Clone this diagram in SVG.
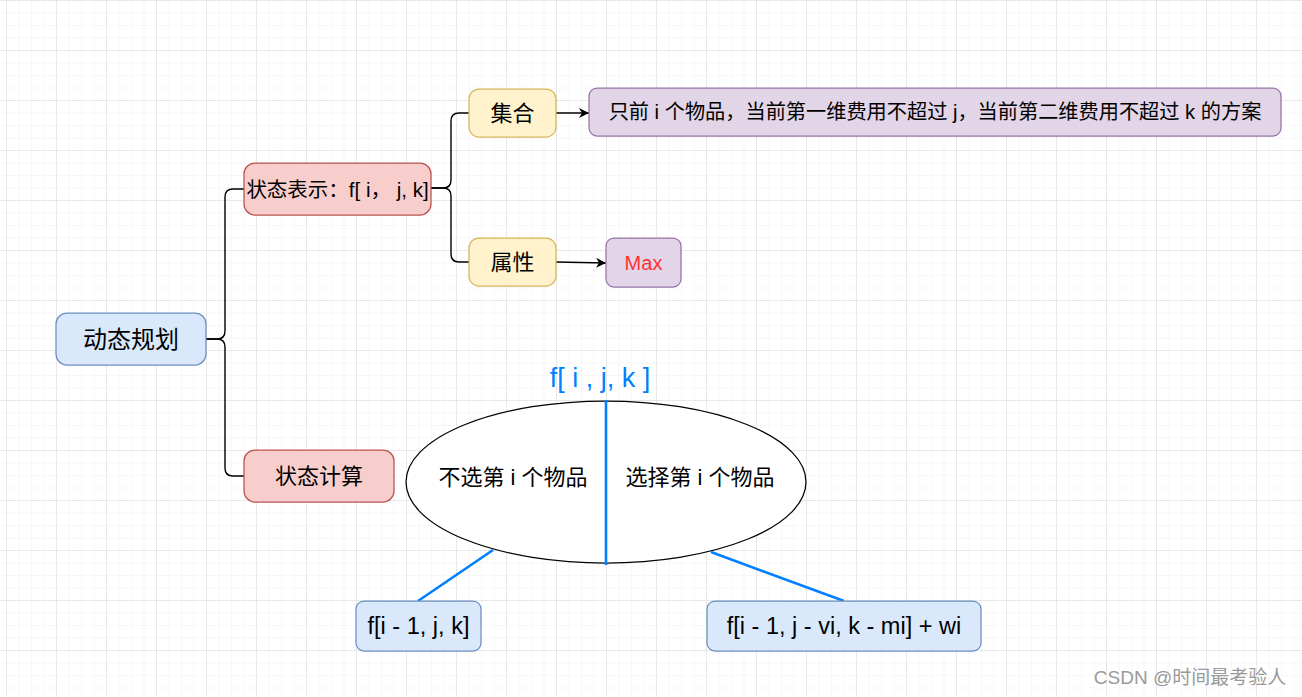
<svg xmlns="http://www.w3.org/2000/svg" width="1302" height="697" viewBox="0 0 1302 697">
<style>
text{font-family:"Liberation Sans","Noto Sans CJK SC",sans-serif;text-anchor:middle;dominant-baseline:central;fill:#000}
.blue{fill:#dae8fc;stroke:#6c8ebf;stroke-width:1.25}
.red{fill:#f8cecc;stroke:#b85450;stroke-width:1.25}
.yel{fill:#fff2cc;stroke:#d6b656;stroke-width:1.25}
.pur{fill:#e1d5e7;stroke:#9673a6;stroke-width:1.25}
.edge{fill:none;stroke:#000;stroke-width:1.4}
.bl{fill:none;stroke:#007fff;stroke-width:2.6}
</style>
<defs>
<pattern id="minor" x="6" y="0" width="12.5" height="12.5" patternUnits="userSpaceOnUse">
<path d="M0,0 V12.5 M0,0 H12.5" fill="none" stroke="#f0f0f0" stroke-width="1"/>
</pattern>
<pattern id="major" x="6" y="0" width="50" height="50" patternUnits="userSpaceOnUse">
<path d="M0,0 V50 M0,0 H50" fill="none" stroke="#dadada" stroke-width="1"/>
</pattern>
<marker id="arr" viewBox="0 0 10 10" refX="10" refY="5" markerWidth="10" markerHeight="10" markerUnits="userSpaceOnUse" orient="auto">
<path d="M0,0 L10,5 L0,10 L3,5 z" fill="#000"/>
</marker>
</defs>
<rect width="1302" height="697" fill="#fff"/>
<rect width="1302" height="697" fill="url(#minor)"/>
<rect width="1302" height="697" fill="url(#major)"/>

<g id="connectors">
<path class="edge" d="M206,339 L217,339 Q225,339 225,331 L225,197 Q225,189 233,189 L244,189"/>
<path class="edge" d="M206,339 L217,339 Q225,339 225,347 L225,468 Q225,476 233,476 L244,476"/>
<path class="edge" d="M431,188 L443,188 Q451,188 451,180 L451,121 Q451,113 459,113 L469,113"/>
<path class="edge" d="M431,188 L443,188 Q451,188 451,196 L451,254 Q451,262 459,262 L469,262"/>
<path class="edge" d="M556,113 L589,113" marker-end="url(#arr)"/>
<path class="edge" d="M556,262 L606,263" marker-end="url(#arr)"/>
<path class="bl" d="M493,550 L418,601"/>
<path class="bl" d="M711,552 L844,601"/>
</g>

<g id="n-dp"><rect class="blue" x="56" y="313" width="150" height="52" rx="11"/><text x="131" y="339" font-size="24">动态规划</text></g>
<g id="n-repr"><rect class="red" x="244" y="163" width="187" height="52" rx="11"/><text x="337.5" y="189" font-size="20.5">状态表示：f[ i， j, k]</text></g>
<g id="n-calc"><rect class="red" x="244" y="450" width="150" height="52" rx="11"/><text x="319" y="476" font-size="22">状态计算</text></g>
<g id="n-set"><rect class="yel" x="469" y="89" width="87" height="48" rx="10"/><text x="512.5" y="113" font-size="22">集合</text></g>
<g id="n-attr"><rect class="yel" x="469" y="238" width="87" height="48" rx="10"/><text x="512.5" y="262" font-size="22">属性</text></g>
<g id="n-desc"><rect class="pur" x="589" y="88" width="692" height="48" rx="8"/><text x="935" y="112" font-size="20.2">只前 i 个物品，当前第一维费用不超过 j，当前第二维费用不超过 k 的方案</text></g>
<g id="n-max"><rect class="pur" x="606" y="238" width="75" height="49" rx="8"/><text x="643.5" y="263" font-size="20" style="fill:#ff3333">Max</text></g>

<g id="n-ellipse">
<ellipse cx="606" cy="482" rx="200" ry="81" fill="#fff" stroke="#000" stroke-width="1.25"/>
<path class="bl" d="M606,400 L606,565"/>
<text x="513" y="477" font-size="22">不选第 i 个物品</text>
<text x="700" y="477" font-size="22">选择第 i 个物品</text>
</g>
<g id="n-title"><text x="600" y="378" font-size="27" style="fill:#007fff">f[ i , j, k ]</text></g>

<g id="n-left"><rect class="blue" x="356" y="601" width="125" height="50" rx="8"/><text x="418.5" y="626" font-size="23.5">f[i - 1, j, k]</text></g>
<g id="n-right"><rect class="blue" x="707" y="601" width="274" height="50" rx="8"/><text x="844" y="626" font-size="23.5">f[i - 1, j - vi, k - mi] + wi</text></g>

<text x="1190" y="677" font-size="19" style="fill:#9a9a9a">CSDN @时间最考验人</text>
</svg>
